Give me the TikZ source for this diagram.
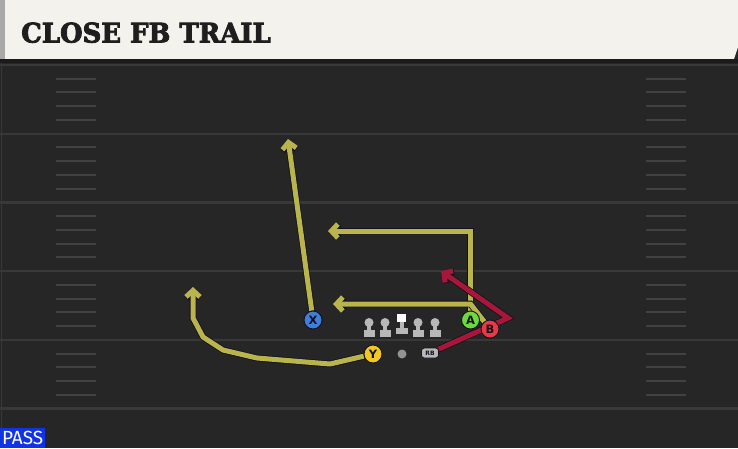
\documentclass[tikz,border=0pt]{standalone}
\usepackage{fontspec}
\usetikzlibrary{arrows.meta}
\newfontfamily\titlefont{DejaVu Serif Bold}[FakeBold=3]
\newfontfamily\playerfont{DejaVu Sans}
\newfontfamily\passfont{Fira Sans}
\definecolor{fieldbg}{HTML}{262626}
\definecolor{headerbg}{HTML}{F4F2EC}
\definecolor{stripgray}{HTML}{A9A9A9}
\definecolor{bandgray}{HTML}{1B1B1B}
\definecolor{yardgray}{HTML}{383838}
\definecolor{hashgray}{HTML}{424242}
\definecolor{titleblack}{HTML}{1E1E1E}
\definecolor{passblue}{HTML}{1133E6}
\definecolor{routeyellow}{HTML}{B9B44B}
\definecolor{routered}{HTML}{A8163A}
\definecolor{routeedge}{HTML}{11121E}
\definecolor{xblue}{HTML}{3F7FDB}
\definecolor{agreen}{HTML}{6CD93C}
\definecolor{bred}{HTML}{E83A45}
\definecolor{yyellow}{HTML}{F4C71F}
\definecolor{linegray}{HTML}{B8B8B8}
\pgfdeclarelayer{field}
\pgfdeclarelayer{routes}
\pgfsetlayers{field,routes,main}
\tikzset{
  yardline/.style={draw=yardgray, line width=2.2pt},
  hashmark/.style={draw=hashgray, line width=2pt},
  route/.style={draw=routeyellow, line width=5pt, line join=round,
    -{Straight Barb[length=6.5pt,width=14pt]},
    preaction={draw=routeedge, line width=6.6pt}},
  redroute/.style={route, draw=routered},
  player/.style={circle, draw=routeedge, line width=0.9pt, minimum size=18pt,
    inner sep=0pt, text=routeedge, font=\playerfont\bfseries\fontsize{11.5}{11.5}\selectfont},
  lineman/.style={fill=linegray},
}
\begin{document}
\begin{tikzpicture}[x=1pt,y=-1pt]
  \useasboundingbox (0,0) rectangle (738,448);
  \begin{pgfonlayer}{field}
    % field and header
    \fill[fieldbg] (0,0) rectangle (738,448);
    \fill[headerbg] (0,0) -- (738,0) -- (738,47) -- (734,59) -- (0,59) -- cycle;
    \fill[stripgray] (0,0) rectangle (5,59);
    \fill[bandgray] (0,59) rectangle (738,63);
    \draw[yardgray, line width=1pt] (1.5,63) -- (1.5,448);
    \foreach \k in {0,...,5}
      \draw[yardline] (0,{65+68.7*\k}) -- (738,{65+68.7*\k});
    \foreach \j in {1,...,24}{
      \pgfmathtruncatemacro\r{mod(\j,5)}
      \ifnum\r>0
        \draw[hashmark] (56,{65+13.74*\j}) -- (96,{65+13.74*\j});
        \draw[hashmark] (646,{65+13.74*\j}) -- (686,{65+13.74*\j});
      \fi
    }
  \end{pgfonlayer}

  \node[anchor=base west, inner sep=0pt, text=titleblack] (title) at (21,42.5)
    {\scalebox{0.96}[1]{\titlefont\fontsize{27}{27}\selectfont CLOSE FB TRAIL}};
  \node[fill=passblue, anchor=south west, minimum width=45pt, minimum height=20pt,
    inner sep=0pt, text=white, font=\passfont\fontsize{19}{19}\selectfont] (pass) at (0,448) {PASS};

  % offensive line
  \foreach \x in {369,385,418,435}{
    \fill[lineman] (\x-5.5,330) rectangle (\x+5.5,336.5);
    \fill[lineman] (\x-2.2,323) rectangle (\x+2.2,331);
    \fill[lineman] (\x,322.5) circle (4.5);
  }
  \fill[lineman] (395.5,328) rectangle (407.5,333.5);
  \fill[lineman] (399.5,321) rectangle (403.5,329);
  \fill[white] (397,313.5) rectangle (406,322);
  \fill[gray!85] (402,354) circle (4.5);

  % players
  \node[player, fill=xblue] (X) at (313,320) {X};
  \node[player, fill=agreen] (A) at (470.5,320) {A};
  \node[player, fill=bred] (B) at (490,329) {B};
  \node[player, fill=yyellow] (Y) at (373,354) {Y};
  \node[rounded corners=3pt, fill=linegray, draw=routeedge, line width=0.6pt,
    minimum width=17pt, minimum height=10pt, inner sep=0pt, text=routeedge,
    font=\playerfont\bfseries\fontsize{6}{6}\selectfont] (rb) at (430,353) {RB};

  % route points
  \coordinate (xtop) at (288,139);
  \coordinate (y1) at (330,364);
  \coordinate (y2) at (257,358);
  \coordinate (y3) at (223,350);
  \coordinate (y4) at (203,337);
  \coordinate (y5) at (193,318);
  \coordinate (ytop) at (193,287);
  \coordinate (acorner) at (470.5,231);
  \coordinate (aend) at (328,231);
  \coordinate (bkink) at (470.5,304);
  \coordinate (bend) at (333,304);
  \coordinate (rbturn) at (508,318);
  \coordinate (rbend) at (441,271);

  \begin{pgfonlayer}{routes}
    \draw[route] (X) -- (xtop);
    \draw[route] (Y) -- (y1) -- (y2) -- (y3) -- (y4) -- (y5) -- (ytop);
    \draw[route, line join=miter] (A) -- (acorner) -- (aend);
    \draw[route] (B.center) -- (bkink) -- (bend);
    \draw[redroute, line join=miter] (rb) -- (rbturn) -- (rbend);
  \end{pgfonlayer}
\end{tikzpicture}
\end{document}
